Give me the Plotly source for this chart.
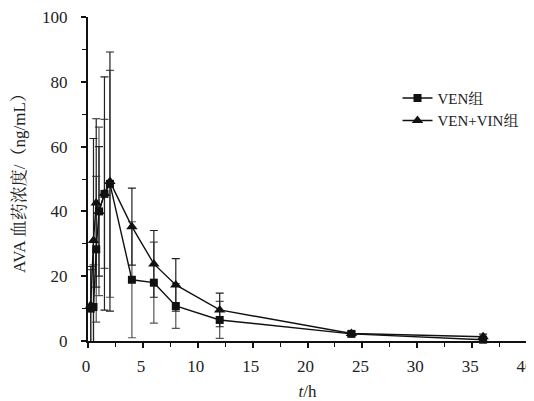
import plotly.graph_objects as go

# Data
t_ven = [0.25, 0.5, 0.75, 1, 1.5, 2, 4, 6, 8, 12, 24, 36]
c_ven = [10.0, 10.5, 28.3, 40.0, 45.4, 48.5, 18.9, 18.0, 10.8, 6.5, 2.2, 0.4]
sd_ven = [12.0, 13.0, 22.5, 26.0, 23.0, 35.0, 17.9, 12.5, 6.9, 5.7, 0.6, 0.4]

t_vin = [0.25, 0.5, 0.75, 1, 1.5, 2, 4, 6, 8, 12, 24, 36]
c_vin = [11.0, 31.0, 42.6, 40.0, 45.5, 49.2, 35.3, 23.8, 17.3, 9.6, 2.3, 1.3]
sd_vin = [12.0, 31.5, 26.0, 20.0, 36.0, 40.0, 11.9, 10.3, 8.1, 5.2, 0.7, 0.8]

names = ["VEN组", "VEN+VIN组"]
x_ticks = [0, 5, 10, 15, 20, 25, 30, 35, 40]
y_ticks = [0, 20, 40, 60, 80, 100]

FONT = "Liberation Serif, 'Noto Serif CJK SC', 'Noto Sans CJK SC', serif"

fig = go.Figure()

# error bars (clipped to plot area)
fig.add_trace(go.Scatter(x=t_ven, y=c_ven, mode="markers", marker=dict(size=1, opacity=0),
                         error_y=dict(type="data", array=sd_ven, color="#555555", thickness=1.2, width=4),
                         showlegend=False, hoverinfo="skip"))
fig.add_trace(go.Scatter(x=t_vin, y=c_vin, mode="markers", marker=dict(size=1, opacity=0),
                         error_y=dict(type="data", array=sd_vin, color="#222222", thickness=1.2, width=4),
                         showlegend=False, hoverinfo="skip"))

fig.add_trace(go.Scatter(x=t_ven, y=c_ven, mode="lines+markers", name=names[0],
                         line=dict(color="#111111", width=1.4),
                         marker=dict(symbol="square", size=8, color="#111111"),
                         cliponaxis=False))
fig.add_trace(go.Scatter(x=t_vin, y=c_vin, mode="lines+markers", name=names[1],
                         line=dict(color="#111111", width=1.4),
                         marker=dict(symbol="triangle-up", size=10, color="#111111"),
                         cliponaxis=False))

fig.update_layout(
    width=526, height=393,
    margin=dict(l=80, r=7, t=9, b=60),
    paper_bgcolor="white", plot_bgcolor="white",
    font=dict(family=FONT, size=17, color="#222222"),
    showlegend=True,
    legend=dict(x=0.705, y=0.80, xanchor="left", yanchor="top",
                bgcolor="rgba(0,0,0,0)", font=dict(size=15),
                itemwidth=30, tracegroupgap=0),
    xaxis=dict(range=[0, 40], tickvals=x_ticks, ticks="outside", ticklen=5, tickwidth=1.5,
               tickcolor="#111111", showline=True, linecolor="#111111", linewidth=2,
               showgrid=False, zeroline=False, ticklabelstandoff=4, ticklabeloverflow="allow",
               ticklabelshift=-2, automargin=False,
               minor=dict(dtick=2.5, ticks="outside", ticklen=4, tickwidth=1.2, tickcolor="#111111"),
               title=dict(text="<i>t</i>/h", standoff=10, font=dict(size=17))),
    yaxis=dict(range=[0, 100], tickvals=y_ticks, ticks="outside", ticklen=5, tickwidth=1.5,
               tickcolor="#111111", showline=True, linecolor="#111111", linewidth=2,
               showgrid=False, zeroline=False, ticklabelstandoff=10, ticklabeloverflow="allow",
               automargin=False,
               minor=dict(dtick=10, ticks="outside", ticklen=4, tickwidth=1.2, tickcolor="#111111"),
               title=dict(text="AVA 血药浓度/（ng/mL）", standoff=12, font=dict(size=17))),
)

fig.write_html("out.html")
